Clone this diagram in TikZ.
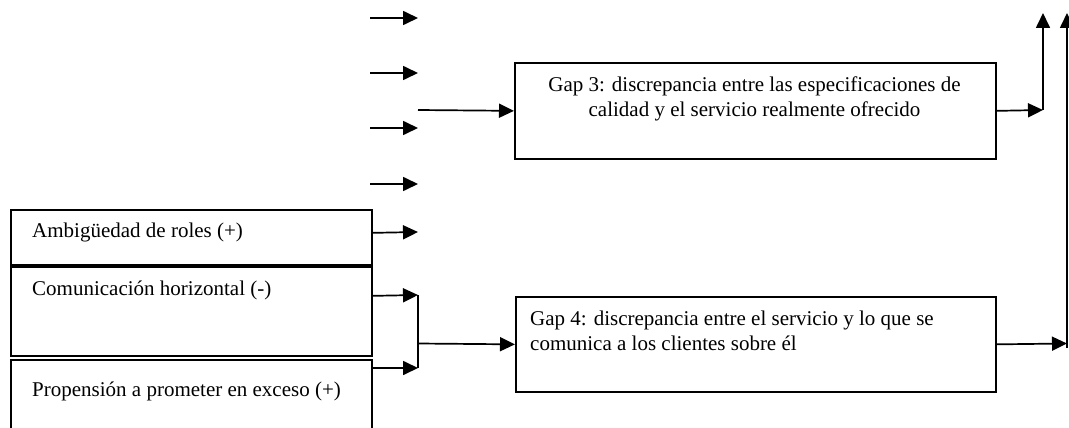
\documentclass[tikz,border=0pt]{standalone}
\usepackage{fontspec}
\setmainfont{Liberation Serif}
\usetikzlibrary{arrows.meta}
\begin{document}
\begin{tikzpicture}[x=1pt,y=-1pt,
  box/.style={draw,line width=1.7pt,inner sep=0pt,anchor=north west},
  txt/.style={font=\fontsize{21}{24.5}\selectfont,inner sep=0pt},
  arr/.style={line width=1.7pt,-{Triangle[length=15pt,width=14pt]}},
  ln/.style={line width=1.7pt}]
\clip (0,0) rectangle (1069,428);
% boxes
\node[box,minimum width=361pt,minimum height=55pt] (b1) at (10,209) {};
\node[box,minimum width=361pt,minimum height=89pt] (b2) at (10,266) {};
\node[box,minimum width=361pt,minimum height=110pt] (b3) at (10,359) {};
\node[box,minimum width=481pt,minimum height=96pt] (g3) at (514,62) {};
\node[box,minimum width=480pt,minimum height=95pt] (g4) at (515,296) {};
% texts
\node[txt,anchor=west] (t1) at (32,232) {Ambigüedad de roles (+)};
\node[txt,anchor=west] (t2) at (32,290) {Comunicación horizontal (-)};
\node[txt,anchor=west] (t3) at (32,391) {Propensión a prometer en exceso (+)};
\node[txt,align=center] (tg3) at (754.5,99) {Gap 3: discrepancia entre las especificaciones de\\calidad y el servicio realmente ofrecido};
\node[txt,align=left,anchor=west] (tg4) at (530,331) {Gap 4: discrepancia entre el servicio y lo que se\\comunica a los clientes sobre él};
% short free arrows
\coordinate (s1) at (370,18);  \coordinate (e1) at (418,18);
\coordinate (s2) at (370,73);  \coordinate (e2) at (418,73);
\coordinate (s3) at (370,128); \coordinate (e3) at (418,128);
\coordinate (s4) at (370,184); \coordinate (e4) at (418,184);
\draw[arr] (s1) -- (e1);
\draw[arr] (s2) -- (e2);
\draw[arr] (s3) -- (e3);
\draw[arr] (s4) -- (e4);
% into gap 3
\coordinate (in3) at (418,110);
\draw[arr] (in3) -- (g3.west);
% from left boxes
\coordinate (e5) at (418,232);
\draw[arr] ([yshift=4.5pt]b1.east) -- (e5);
\coordinate (j1) at (418,295);
\coordinate (j2) at (418,368);
\draw[arr] ([yshift=15.5pt]b2.east) -- (j1);
\draw[arr] ([yshift=-9pt]b3.north east) -- (j2);
\draw[ln] (j1) -- (j2);
\coordinate (j3) at (418,343.5);
\draw[arr] (j3) -- (g4.west);
% outputs
\coordinate (o3) at (1043,110);
\coordinate (o3t) at (1043,13);
\draw[arr] (g3.east) -- (o3);
\draw[arr] (o3) -- (o3t);
\coordinate (o4) at (1067,343.5);
\coordinate (o4b) at (1067,348);
\coordinate (o4t) at (1067,13);
\draw[arr] (g4.east) -- (o4);
\draw[arr] (o4b) -- (o4t);
\end{tikzpicture}
\end{document}
